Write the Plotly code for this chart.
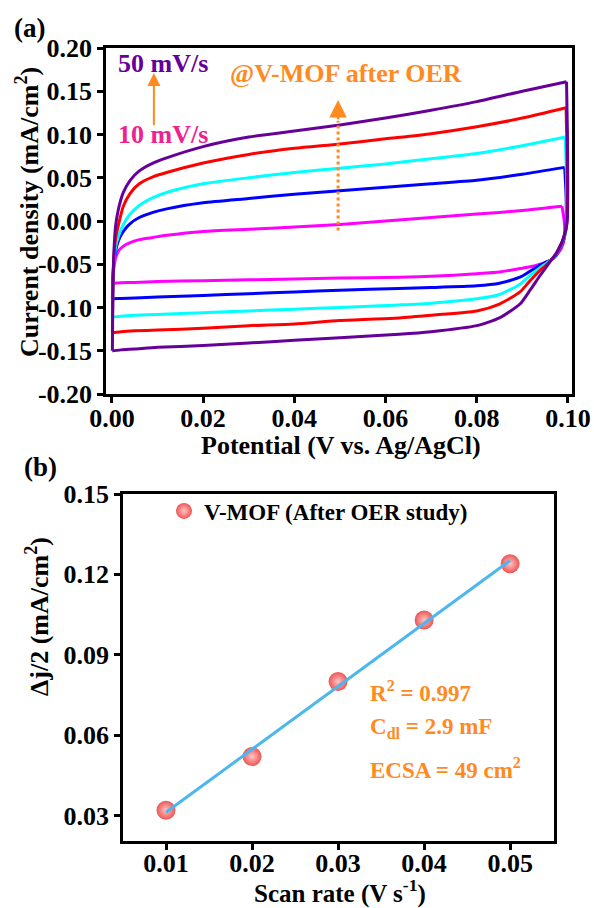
import numpy as np
import plotly.graph_objects as go

W, H = 594, 908

# ---------------- Panel (a): CV curves ----------------
scan_labels = ["10 mV/s", "20 mV/s", "30 mV/s", "40 mV/s", "50 mV/s"]

# anodic (upper) branch, shared potentials (V)
up_x = [0.0001, 0.0002, 0.0004, 0.0008, 0.0014, 0.0025, 0.004, 0.006, 0.009,
        0.012, 0.02, 0.03, 0.04, 0.05, 0.06, 0.07, 0.08, 0.09]
up_10 = [-0.072, -0.065, -0.055, -0.043, -0.035, -0.029, -0.025, -0.0215, -0.019,
         -0.0165, -0.012, -0.0095, -0.007, -0.004, 0.000, 0.004, 0.008, 0.012]
up_20 = [-0.090, -0.070, -0.050, -0.035, -0.023, -0.012, -0.003, 0.004, 0.010,
         0.014, 0.021, 0.026, 0.031, 0.035, 0.039, 0.043, 0.047, 0.054]
up_30 = [-0.111, -0.080, -0.050, -0.030, -0.018, -0.004, 0.008, 0.018, 0.027,
         0.033, 0.043, 0.050, 0.056, 0.061, 0.066, 0.072, 0.078, 0.087]
up_40 = [-0.129, -0.080, -0.045, -0.020, -0.005, 0.017, 0.032, 0.043, 0.051,
         0.056, 0.067, 0.077, 0.084, 0.089, 0.095, 0.101, 0.109, 0.119]
up_50 = [-0.150, -0.085, -0.040, -0.006, 0.013, 0.033, 0.047, 0.058, 0.067,
         0.073, 0.086, 0.097, 0.104, 0.111, 0.119, 0.128, 0.138, 0.150]

# switching region near 0.1 V (upper end -> crossing)
turn_x_10 = [0.0987, 0.0992, 0.0993, 0.0992, 0.0989, 0.0985, 0.0980, 0.0974]
turn_j_10 = [0.017, 0.000, -0.012, -0.020, -0.027, -0.032, -0.036, -0.040]
turn_x_20 = [0.0993, 0.0996, 0.0996, 0.0994, 0.0990, 0.0985, 0.0980, 0.0974]
turn_j_20 = [0.062, 0.030, -0.008, -0.015, -0.023, -0.029, -0.034, -0.040]
turn_x_30 = [0.0994, 0.0997, 0.0997, 0.0995, 0.0991, 0.0986, 0.0980, 0.0974]
turn_j_30 = [0.097, 0.050, -0.005, -0.012, -0.020, -0.027, -0.033, -0.039]
turn_x_40 = [0.0996, 0.0998, 0.0998, 0.0996, 0.0992, 0.0987, 0.0981, 0.0974]
turn_j_40 = [0.131, 0.080, 0.000, -0.008, -0.017, -0.025, -0.031, -0.038]
turn_x_50 = [0.0997, 0.0999, 0.0999, 0.0997, 0.0993, 0.0988, 0.0982, 0.0975]
turn_j_50 = [0.161, 0.100, 0.004, -0.006, -0.0147, -0.023, -0.030, -0.037]

# cathodic (lower) branch, shared potentials (V)
low_x = [0.0964, 0.095, 0.0939, 0.0917, 0.0895, 0.085, 0.08, 0.07, 0.063,
         0.05, 0.04, 0.03, 0.02, 0.01, 0.005, 0.002, 0.0003]
low_10 = [-0.0447, -0.048, -0.050, -0.053, -0.055, -0.059, -0.061, -0.064, -0.065,
          -0.066, -0.067, -0.068, -0.069, -0.070, -0.071, -0.0715, -0.072]
low_20 = [-0.0447, -0.048, -0.051, -0.058, -0.065, -0.072, -0.075, -0.077, -0.078,
          -0.080, -0.082, -0.084, -0.086, -0.088, -0.089, -0.0895, -0.090]
low_30 = [-0.0447, -0.050, -0.054, -0.063, -0.073, -0.085, -0.090, -0.095, -0.097,
          -0.100, -0.102, -0.104, -0.106, -0.108, -0.109, -0.110, -0.111]
low_40 = [-0.0447, -0.052, -0.057, -0.069, -0.082, -0.096, -0.104, -0.109, -0.112,
          -0.115, -0.119, -0.121, -0.124, -0.126, -0.127, -0.128, -0.129]
low_50 = [-0.0447, -0.055, -0.063, -0.080, -0.096, -0.112, -0.121, -0.128, -0.131,
          -0.135, -0.138, -0.141, -0.144, -0.146, -0.148, -0.149, -0.150]

top_x_ticks = [0.00, 0.02, 0.04, 0.06, 0.08, 0.10]
top_y_ticks = [-0.20, -0.15, -0.10, -0.05, 0.00, 0.05, 0.10, 0.15, 0.20]

# ---------------- Panel (b): Δj/2 vs scan rate ----------------
scan_rate = [0.01, 0.02, 0.03, 0.04, 0.05]
delta_j_half = [0.032, 0.052, 0.080, 0.103, 0.124]
bot_x_ticks = [0.01, 0.02, 0.03, 0.04, 0.05]
bot_y_ticks = [0.03, 0.06, 0.09, 0.12, 0.15]

# ---------------- styles ----------------
cv_colors = ["#FF00FF", "#0000FF", "#00FFFF", "#FF0000", "#660099"]
ORANGE = "#FF8A1F"
FONT = "Liberation Serif"

ups = [up_10, up_20, up_30, up_40, up_50]
turns_x = [turn_x_10, turn_x_20, turn_x_30, turn_x_40, turn_x_50]
turns_j = [turn_j_10, turn_j_20, turn_j_30, turn_j_40, turn_j_50]
lows = [low_10, low_20, low_30, low_40, low_50]

fig = go.Figure()
for lab, col, u, tx, tj, lo in zip(scan_labels, cv_colors, ups, turns_x, turns_j, lows):
    # anodic sweep (ends at the switching corner)
    xa = list(up_x) + [tx[0]]
    ya = list(u) + [tj[0]]
    # reverse sweep from the corner back to the start of the scan
    xb = list(tx) + list(low_x) + [up_x[0]]
    yb = list(tj) + list(lo) + [u[0]]
    for xs, ys in ((xa, ya), (xb, yb)):
        fig.add_trace(go.Scatter(x=xs, y=ys, mode="lines", name=lab, showlegend=False,
                                 line=dict(color=col, width=3, shape="spline", smoothing=0.6),
                                 xaxis="x", yaxis="y"))

fig.add_trace(go.Scatter(
    x=scan_rate, y=delta_j_half, mode="markers", name="V-MOF (After OER study)",
    marker=dict(size=19, color="#EE5555", line=dict(width=0),
                gradient=dict(type="radial", color="#FFC4C4")),
    xaxis="x2", yaxis="y2", showlegend=True))

slope, intercept = np.polyfit(scan_rate, delta_j_half, 1)
fit_x = [min(scan_rate), max(scan_rate)]
fit_y = [slope * v + intercept for v in fit_x]
fig.add_trace(go.Scatter(x=fit_x, y=fit_y, mode="lines", showlegend=False,
                         line=dict(color="#4CB6EE", width=3), xaxis="x2", yaxis="y2"))

# domains (pixel -> paper)
def px(xp):
    return xp / W

def py(yp):
    return 1 - yp / H

tickfont = dict(family=FONT, size=26, color="black", weight="bold")
axis_common = dict(showline=True, linewidth=2.5, linecolor="black", mirror=True,
                   ticks="outside", ticklen=6, tickwidth=2.5, tickcolor="black",
                   showgrid=False, zeroline=False, tickfont=tickfont, automargin=False)

fig.update_layout(
    width=W, height=H, margin=dict(l=0, r=0, t=0, b=0, autoexpand=False),
    paper_bgcolor="white", plot_bgcolor="white",
    xaxis=dict(domain=[px(106), px(572)], range=[-0.0013, 0.1009], anchor="y",
               ticklabelstandoff=-7,
               tickvals=top_x_ticks, ticktext=[f"{v:.2f}" for v in top_x_ticks], **axis_common),
    yaxis=dict(domain=[py(394), py(48)], range=[-0.20, 0.20], anchor="x",
               tickvals=top_y_ticks, ticktext=[f"{v:.2f}" for v in top_y_ticks], **axis_common),
    xaxis2=dict(domain=[px(123), px(554)], range=[0.005, 0.0551], anchor="y2",
                ticklabelstandoff=-9,
                tickvals=bot_x_ticks, ticktext=[f"{v:.2f}" for v in bot_x_ticks], **axis_common),
    yaxis2=dict(domain=[py(841), py(494)], range=[0.0205, 0.15], anchor="x2",
                tickvals=bot_y_ticks, ticktext=[f"{v:.2f}" for v in bot_y_ticks], **axis_common),
    legend=dict(x=px(164), y=py(511), xanchor="left", yanchor="middle",
                bgcolor="rgba(0,0,0,0)", borderwidth=0,
                font=dict(family=FONT, size=23, color="black", weight="bold")),
)

def txt(text, x, y, size=27, color="black", xanchor="center", angle=0, xref="paper", yref="paper"):
    fig.add_annotation(text=text, x=x, y=y, xref=xref, yref=yref, showarrow=False,
                       xanchor=xanchor, yanchor="middle", textangle=angle,
                       font=dict(family=FONT, size=size, color=color, weight="bold"))

# panel labels and axis titles
txt("(a)", px(29), py(28))
txt("(b)", px(40), py(467))
txt("Current density (mA/cm<sup>2</sup>)", px(27), py(212), size=26, angle=-90)
txt("Potential (V vs. Ag/AgCl)", px(341), py(446), size=26)
txt("Δj/2 (mA/cm<sup>2</sup>)", px(37), py(617), size=26, angle=-90)
txt("Scan rate (V s<sup>-1</sup>)", px(340), py(891), size=25)

# panel (a) labels
txt("50 mV/s", px(163), py(64), size=26, color="#660099")
txt("10 mV/s", px(163), py(134), size=26, color="#F0208F")
txt("@V-MOF after OER", px(346), py(73), size=26, color=ORANGE)

# panel (b) fit results
txt("R<sup>2</sup> = 0.997", px(368), py(691), size=23, color=ORANGE, xanchor="left")
txt("C<sub>dl</sub> = 2.9 mF", px(368), py(728), size=23, color=ORANGE, xanchor="left")
txt("ECSA = 49 cm<sup>2</sup>", px(368), py(768), size=23, color=ORANGE, xanchor="left")

# arrows in panel (a)
arrow1_x, arrow1_from, arrow1_to = 0.0092, 0.109, 0.171
fig.add_annotation(x=arrow1_x, y=arrow1_to, ax=arrow1_x, ay=arrow1_from, xref="x", yref="y",
                   axref="x", ayref="y", showarrow=True, text="", arrowhead=2,
                   arrowsize=1.3, arrowwidth=2, arrowcolor=ORANGE)

arrow2_x, arrow2_from, arrow2_mid, arrow2_to = 0.0496, -0.011, 0.116, 0.140
fig.add_shape(type="line", xref="x", yref="y", x0=arrow2_x, x1=arrow2_x,
              y0=arrow2_from, y1=arrow2_mid, line=dict(color=ORANGE, width=3, dash="dot"))
fig.add_annotation(x=arrow2_x, y=arrow2_to, ax=arrow2_x, ay=arrow2_mid, xref="x", yref="y",
                   axref="x", ayref="y", showarrow=True, text="", arrowhead=2,
                   arrowsize=1.4, arrowwidth=2.5, arrowcolor=ORANGE)

fig.write_html("out.html")
